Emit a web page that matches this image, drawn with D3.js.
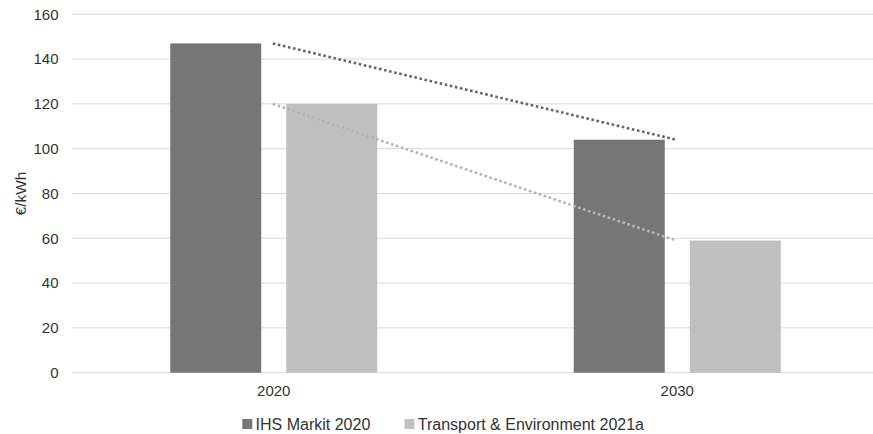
<!DOCTYPE html>
<html>
<head>
<meta charset="utf-8">
<script src="https://cdn.jsdelivr.net/npm/d3@7"></script>
<style>
  html, body { margin: 0; padding: 0; background: #fff; }
  svg { display: block; font-family: "Liberation Sans", Arial, sans-serif; }
</style>
</head>
<body>
<svg id="chart" width="873" height="434"></svg>
<script>
const categories = ["2020", "2030"];
const seriesNames = ["IHS Markit 2020", "Transport & Environment 2021a"];
const ihsValues = [147, 104];
const teValues = [120, 59];
const yTicks = [0, 20, 40, 60, 80, 100, 120, 140, 160];
const yLabel = "€/kWh";

(function () {
const colors = ["#767676", "#bfbfbf"];
const trendColors = ["#666666", "#b4b4b4"];
const textColor = "#333333";
const series = [ihsValues, teValues];

const svg = d3.select("#chart");
const pLeft = 72, pRight = 879, pTop = 14.3, pBottom = 372.7;

const x = d3.scaleBand().domain(categories).range([pLeft, pRight]).paddingInner(0).paddingOuter(0);
const y = d3.scaleLinear().domain([0, 160]).range([pBottom, pTop]);

const barW = 91, gap = 25;
const groupW = barW * 2 + gap;
const inner = d3.scaleOrdinal().domain([0, 1]).range([0, barW + gap]);

// gridlines
svg.append("g")
  .selectAll("line")
  .data(yTicks)
  .join("line")
  .attr("x1", pLeft).attr("x2", pRight)
  .attr("y1", d => y(d)).attr("y2", d => y(d))
  .attr("stroke", "#d9d9d9").attr("stroke-width", 1);

// y axis labels
const yAxis = d3.axisLeft(y).tickValues(yTicks).tickSize(0).tickPadding(0);
const yg = svg.append("g").attr("transform", `translate(${pLeft - 13.5},0)`).call(yAxis);
yg.select(".domain").remove();
yg.selectAll("text").attr("font-size", 15).attr("fill", textColor)
  .attr("font-family", "Liberation Sans, Arial, sans-serif");

// x axis labels
const xAxis = d3.axisBottom(x).tickSize(0).tickPadding(0);
const xg = svg.append("g").attr("transform", `translate(0,${pBottom + 13})`).call(xAxis);
xg.select(".domain").remove();
xg.selectAll("text").attr("font-size", 15).attr("fill", textColor)
  .attr("font-family", "Liberation Sans, Arial, sans-serif");

// bars
series.forEach((vals, si) => {
  svg.append("g")
    .selectAll("rect")
    .data(vals.map((v, i) => ({ cat: categories[i], v })))
    .join("rect")
    .attr("x", d => x(d.cat) + (x.bandwidth() - groupW) / 2 + inner(si))
    .attr("width", barW)
    .attr("y", d => y(d.v))
    .attr("height", d => y(0) - y(d.v))
    .attr("fill", colors[si]);
});

// linear trendlines (dotted), category centre to centre
series.forEach((vals, si) => {
  const line = d3.line()
    .x((d, i) => x(categories[i]) + x.bandwidth() / 2 - 1)
    .y(d => y(d));
  svg.append("path")
    .datum(vals)
    .attr("d", line)
    .attr("fill", "none")
    .attr("stroke", trendColors[si])
    .attr("stroke-width", 2.6)
    .attr("stroke-dasharray", "2.6 2.6");
});

// y label
svg.append("text")
  .attr("transform", `translate(26,${(pTop + pBottom) / 2}) rotate(-90)`)
  .attr("text-anchor", "middle")
  .attr("font-size", 15.5)
  .attr("fill", textColor)
  .text(yLabel);

// legend
const legendX = [242.3, 404.5];
const lg = svg.append("g");
seriesNames.forEach((name, i) => {
  lg.append("rect")
    .attr("x", legendX[i]).attr("y", 419)
    .attr("width", 10).attr("height", 10)
    .attr("fill", colors[i]);
  lg.append("text")
    .attr("x", legendX[i] + 13.3).attr("y", 430)
    .attr("font-size", 16)
    .attr("fill", textColor)
    .text(name);
});
})();
</script>
</body>
</html>
